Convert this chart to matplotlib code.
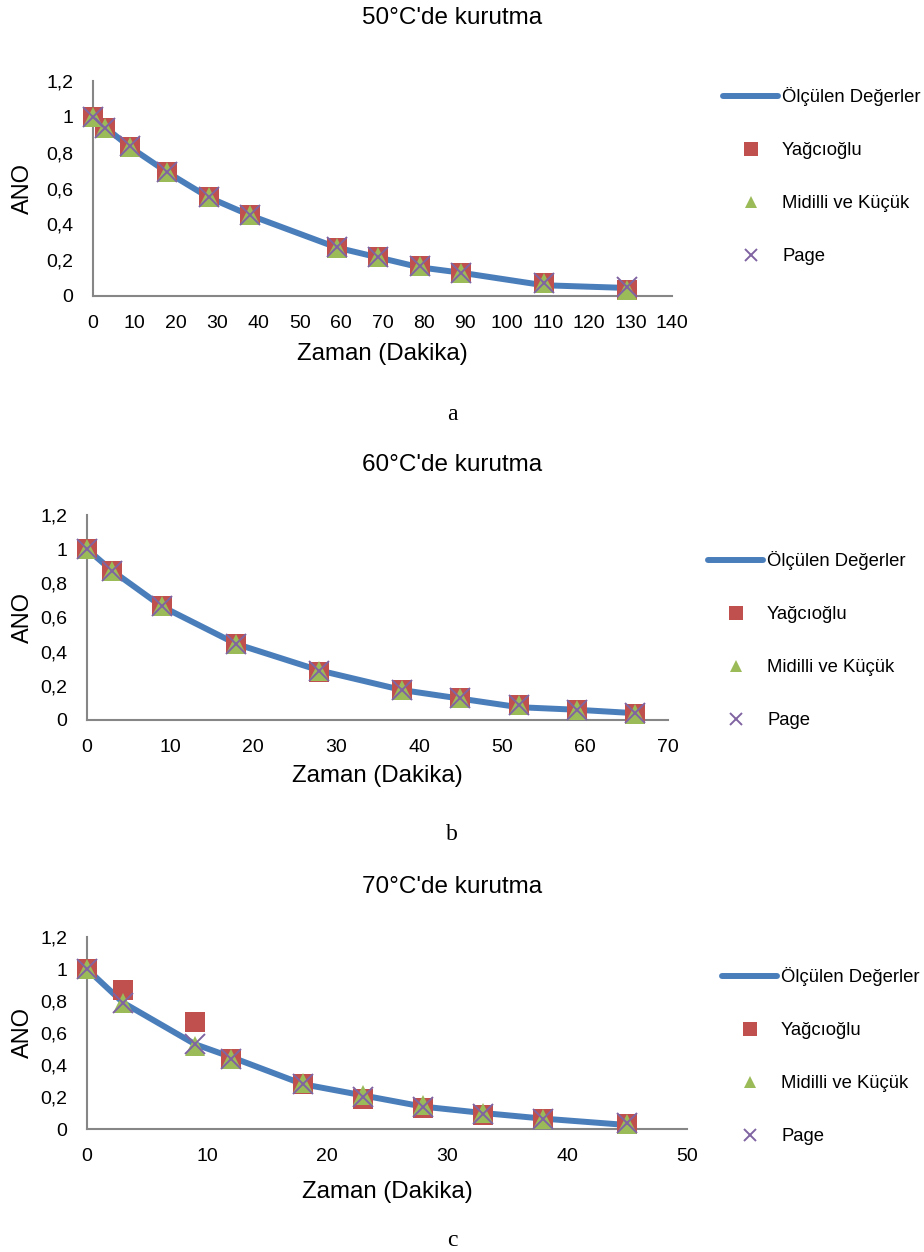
import matplotlib
matplotlib.use("Agg")
import matplotlib.pyplot as plt
from matplotlib.ticker import FuncFormatter

plt.rcParams['font.family'] = ['Liberation Sans', 'DejaVu Sans']

# 50 C
t50 = [0, 3, 9, 18, 28, 38, 59, 69, 79, 89, 109, 129]
olc50 = [1.0, 0.94, 0.83, 0.69, 0.55, 0.45, 0.27, 0.215, 0.16, 0.13, 0.06, 0.045]
yag50 = [1.0, 0.94, 0.83, 0.69, 0.555, 0.45, 0.27, 0.215, 0.165, 0.13, 0.07, 0.035]
mid50 = [1.0, 0.935, 0.83, 0.69, 0.555, 0.45, 0.27, 0.215, 0.165, 0.13, 0.07, 0.035]
page50 = [1.0, 0.94, 0.835, 0.69, 0.555, 0.45, 0.275, 0.215, 0.165, 0.13, 0.075, 0.05]

# 60 C
t60 = [0, 3, 9, 18, 28, 38, 45, 52, 59, 66]
olc60 = [1.0, 0.875, 0.665, 0.445, 0.29, 0.175, 0.125, 0.075, 0.06, 0.04]
yag60 = [1.0, 0.875, 0.665, 0.445, 0.28, 0.175, 0.13, 0.09, 0.06, 0.035]
mid60 = [1.0, 0.875, 0.665, 0.445, 0.285, 0.175, 0.13, 0.09, 0.06, 0.035]
page60 = [1.0, 0.875, 0.67, 0.445, 0.285, 0.175, 0.13, 0.09, 0.06, 0.04]

# 70 C
t70 = [0, 3, 9, 12, 18, 23, 28, 33, 38, 45]
olc70 = [1.0, 0.79, 0.53, 0.45, 0.28, 0.21, 0.14, 0.1, 0.065, 0.025]
yag70 = [1.0, 0.87, 0.67, 0.44, 0.28, 0.185, 0.13, 0.09, 0.065, 0.03]
mid70 = [1.0, 0.79, 0.52, 0.44, 0.285, 0.21, 0.15, 0.1, 0.065, 0.03]
page70 = [1.0, 0.79, 0.53, 0.44, 0.28, 0.2, 0.135, 0.095, 0.065, 0.035]

panels = [
    ("50°C'de kurutma", t50, olc50, yag50, mid50, page50, 140, "a"),
    ("60°C'de kurutma", t60, olc60, yag60, mid60, page60, 70, "b"),
    ("70°C'de kurutma", t70, olc70, yag70, mid70, page70, 50, "c"),
]

W, H = 924, 1252
# axes boxes in pixels: left, right, top, bottom
boxes = [(93, 672, 81, 296), (87, 668, 515, 720), (87, 687, 937, 1129)]
title_y = [18, 465, 887]
xlabel_y = [354, 776, 1192]
sub_y = [415, 835, 1240]
leg_pos = [(723, 176), (708, 640), (722, 1056)]

BLUE = '#4A7EBB'
RED = '#C0504D'
GREEN = '#9BBB59'
PURPLE = '#8064A2'
GREY = '#868686'

fig = plt.figure(figsize=(W / 100, H / 100), dpi=100)

comma = FuncFormatter(lambda v, p: ('%g' % round(v, 1)).replace('.', ','))

for i, (title, t, olc, yag, mid, page, xmax, sub) in enumerate(panels):
    l, r, tp, b = boxes[i]
    ax = fig.add_axes([l / W, 1 - b / H, (r - l) / W, (b - tp) / H])
    ax.plot(t, olc, color=BLUE, lw=4.3, solid_capstyle='round', label='Ölçülen Değerler', zorder=2)
    ax.plot(t, yag, 's', color=RED, ms=14.5, mew=0, label='Yağcıoğlu', zorder=3, clip_on=False)
    ax.plot(t, mid, '^', color=GREEN, ms=14, mew=0, label='Midilli ve Küçük', zorder=4, clip_on=False)
    ax.plot(t, page, 'x', color=PURPLE, ms=14, mew=1.4, label='Page', zorder=5, clip_on=False)

    ax.set_xlim(0, xmax)
    ax.set_ylim(0, 1.2)
    ax.set_xticks(range(0, xmax + 1, 10))
    ax.set_yticks([0, 0.2, 0.4, 0.6, 0.8, 1.0, 1.2])
    ax.yaxis.set_major_formatter(comma)
    ax.tick_params(length=0, labelsize=14)
    ax.tick_params(axis='y', pad=14)
    ax.tick_params(axis='x', pad=14)
    for s in ['top', 'right']:
        ax.spines[s].set_visible(False)
    for s in ['left', 'bottom']:
        ax.spines[s].set_color(GREY)
        ax.spines[s].set_linewidth(1.5)
    ax.set_ylabel('ANO', fontsize=17)
    ax.yaxis.set_label_coords(-(l - 34) / (r - l), 0.5)

    fig.text(452 / W, 1 - title_y[i] / H, title, ha='center', va='center', fontsize=17.5)
    fig.text((l + r) / 2 / W, 1 - xlabel_y[i] / H, 'Zaman (Dakika)', ha='center', va='center', fontsize=17.3)
    fig.text(452 / W, 1 - sub_y[i] / H, sub, ha='center', va='center', fontsize=17,
             family=['Liberation Serif', 'DejaVu Serif'])

    lx, ly = leg_pos[i]
    ax.legend(loc='center left', bbox_to_anchor=(lx / W, 1 - ly / H), bbox_transform=fig.transFigure,
              frameon=False, fontsize=13.3, borderpad=0, borderaxespad=0, handlelength=3.0,
              handletextpad=0.2, labelspacing=1.95, markerscale=0.65)

fig.savefig('out.png', dpi=100)
